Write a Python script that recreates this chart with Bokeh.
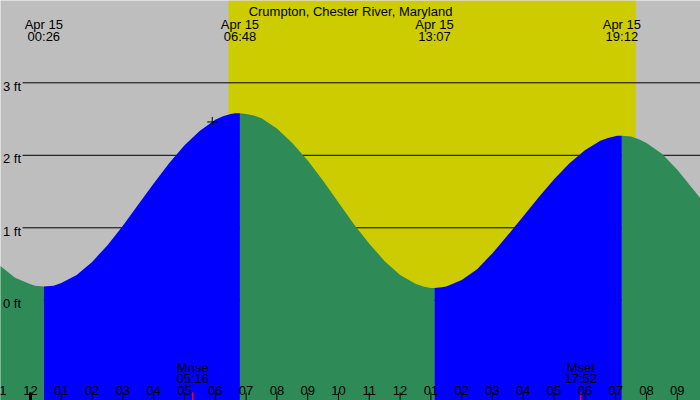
from bokeh.plotting import figure
from bokeh.models import Range1d, BoxAnnotation
from bokeh.core.properties import value
from bokeh.embed import file_html
from bokeh.resources import INLINE

title_text = "Crumpton, Chester River, Maryland"

# tide height (ft), hours from midnight Apr 15
tide_hours = [-1.0, -0.5, 0.0, 0.15, 0.433, 0.75, 1.0, 1.5, 2.0, 2.5, 3.0, 3.5,
              4.0, 4.5, 5.0, 5.5, 6.0, 6.25, 6.5, 6.65, 6.8, 7.0, 7.25, 7.5,
              8.0, 8.5, 9.0, 9.5, 10.0, 10.5, 11.0, 11.5, 12.0, 12.5, 12.75,
              13.0, 13.117, 13.35, 13.5, 14.0, 14.5, 15.0, 15.5, 16.0, 16.5,
              17.0, 17.5, 18.0, 18.5, 18.75, 19.05, 19.2, 19.5, 19.75, 20.0,
              20.5, 21.0, 21.5, 21.8]
tide_ft = [0.48, 0.31, 0.22, 0.20, 0.19, 0.20, 0.24, 0.35, 0.53, 0.76, 1.03, 1.32,
           1.61, 1.89, 2.14, 2.34, 2.49, 2.54, 2.57, 2.58, 2.58, 2.57, 2.55, 2.51,
           2.37, 2.17, 1.93, 1.65, 1.35, 1.05, 0.78, 0.54, 0.35, 0.23, 0.19,
           0.17, 0.17, 0.18, 0.19, 0.28, 0.43, 0.65, 0.90, 1.16, 1.42,
           1.67, 1.89, 2.07, 2.20, 2.24, 2.27, 2.27, 2.26, 2.22, 2.17,
           2.02, 1.80, 1.54, 1.38]

# high / low water
extreme_hours = [0.433, 6.8, 13.117, 19.2]
extreme_dates = ["Apr 15", "Apr 15", "Apr 15", "Apr 15"]
extreme_times = ["00:26", "06:48", "13:07", "19:12"]

sunrise_hour = 6.43
sunset_hour = 19.65

moon_hours = [5.267, 17.867]
moon_names = ["Mrise", "Mset"]
moon_times = ["05:16", "17:52"]

mark_hour = [5.9]
mark_ft = [2.46]

hour_ticks = list(range(-1, 22))
hour_labels = ["11", "12", "01", "02", "03", "04", "05", "06", "07", "08", "09", "10",
               "11", "12", "01", "02", "03", "04", "05", "06", "07", "08", "09"]

depth_ticks = [0, 1, 2, 3]
depth_labels = ["0 ft", "1 ft", "2 ft", "3 ft"]

# layout of the 700x400 picture
PX_PER_HOUR = 30.8
PX_PER_FT = 72.5
X0_PX = 30.0    # midnight
Y0_PX = 299.8   # 0 ft
W, H = 700, 400
XMIN = -X0_PX / PX_PER_HOUR
XMAX = (W - X0_PX) / PX_PER_HOUR
YMAX = Y0_PX / PX_PER_FT
YMIN = (Y0_PX - H) / PX_PER_FT


def hx(px):
    return (px - X0_PX) / PX_PER_HOUR


def fy(py):
    return (Y0_PX - py) / PX_PER_FT


GRAY = "#BEBEBE"
DAY = "#CCCC00"
RISING = "#0000FF"
FALLING = "#2E8B57"
FONT = value("Liberation Sans")
FSIZE = value("13px")

p = figure(width=W, height=H, output_backend="svg", toolbar_location=None,
           x_range=Range1d(XMIN, XMAX), y_range=Range1d(YMIN, YMAX),
           x_axis_location=None, y_axis_location=None, min_border=0)
p.grid.visible = False
p.outline_line_color = None
p.background_fill_color = GRAY
p.border_fill_color = GRAY

# daylight
p.add_layout(BoxAnnotation(left=sunrise_hour, right=sunset_hour, fill_color=DAY,
                           fill_alpha=1, line_color=None, level="underlay"))

# depth lines
p.segment(x0=hx(22), y0=depth_ticks, x1=XMAX, y1=depth_ticks,
          line_color="black", line_width=1)

# tide, blue while rising, green while falling
bounds = [tide_hours[0]] + extreme_hours + [tide_hours[-1]]
for a, b in zip(bounds[:-1], bounds[1:]):
    xs = [h for h in tide_hours if a <= h <= b]
    ys = [f for h, f in zip(tide_hours, tide_ft) if a <= h <= b]
    color = RISING if ys[-1] > ys[0] else FALLING
    p.varea(x=xs, y1=YMIN, y2=ys, fill_color=color)

p.scatter(mark_hour, mark_ft, marker="cross", size=10, line_color="black", line_width=1)

# hour ticks along the bottom
p.segment(x0=hour_ticks, y0=YMIN, x1=hour_ticks, y1=fy(392), line_color="black", line_width=1)
midnight = [h for h in hour_ticks if h % 24 == 0]
p.segment(x0=midnight, y0=YMIN, x1=midnight, y1=fy(392), line_color="black", line_width=3)
p.segment(x0=moon_hours, y0=YMIN, x1=moon_hours, y1=fy(392), line_color="red", line_width=1.5)

txt = dict(text_font=FONT, text_font_size=FSIZE, text_color="black",
           text_align="center", text_baseline="alphabetic")
p.text(x=[hx(350)], y=[fy(11)], text=[title_text], **txt)
p.text(x=extreme_hours, y=fy(24), text=extreme_dates, **txt)
p.text(x=extreme_hours, y=fy(36), text=extreme_times, **txt)
p.text(x=hour_ticks, y=fy(389.5), text=hour_labels, **txt)
p.text(x=moon_hours, y=fy(366.5), text=moon_names, **txt)
p.text(x=moon_hours, y=fy(378), text=moon_times, **txt)
p.text(x=hx(2.5), y=[d - 3.6 / PX_PER_FT for d in depth_ticks], text=depth_labels,
       text_font=FONT, text_font_size=FSIZE, text_color="black",
       text_align="left", text_baseline="alphabetic")

open("out.html", "w").write(file_html(p, INLINE))
